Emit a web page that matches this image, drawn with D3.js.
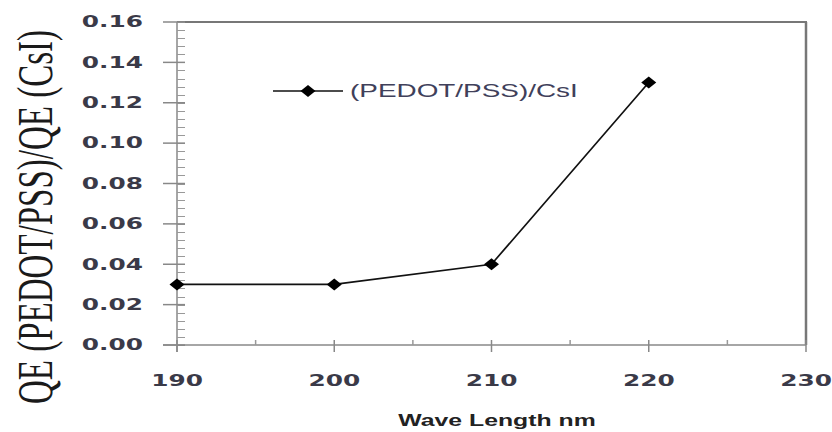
<!DOCTYPE html>
<html>
<head>
<meta charset="utf-8">
<script src="https://cdn.jsdelivr.net/npm/d3@7"></script>
<style>
  body { margin: 0; background: #fff; }
  svg { display: block; }
</style>
</head>
<body>
<div id="chart"></div>
<script>
// data
var wavelengths = [190, 200, 210, 220];
var qeRatio = [0.03, 0.03, 0.04, 0.13];
var xTicks = [190, 200, 210, 220, 230];
var yTicks = [0, 0.02, 0.04, 0.06, 0.08, 0.10, 0.12, 0.14, 0.16];
var seriesName = "(PEDOT/PSS)/CsI";
var xTitle = "Wave Length nm";
var yTitle = "QE (PEDOT/PSS)/QE (CsI)";

var W = 832, H = 432;
var SX = 1.55; // the original picture is stretched sideways
var pL = 177, pR = 806, pT = 22, pB = 345;

var svg = d3.select("#chart").append("svg")
  .attr("width", W).attr("height", H);

var x = d3.scaleLinear().domain([190, 230]).range([pL, pR]);
var y = d3.scaleLinear().domain([0, 0.16]).range([pB, pT]);

// stretched text helper
function stext(px, py, str, anchor, style) {
  return svg.append("text")
    .attr("transform", "translate(" + px + "," + py + ") scale(" + SX + ",1)")
    .attr("text-anchor", anchor)
    .attr("dominant-baseline", "central")
    .attr("style", style)
    .text(str);
}

// frame (top and right)
svg.append("line")
  .attr("x1", pL).attr("x2", pR + 1).attr("y1", pT).attr("y2", pT)
  .attr("stroke", "#777").attr("stroke-width", 2);
svg.append("line")
  .attr("x1", pR).attr("x2", pR).attr("y1", pT).attr("y2", pB)
  .attr("stroke", "#777").attr("stroke-width", 2.5);

// y axis
svg.append("line")
  .attr("x1", pL).attr("x2", pL).attr("y1", pT).attr("y2", pB + 7)
  .attr("stroke", "#888").attr("stroke-width", 1.5);
var yMinor = d3.range(0, 0.1601, 0.004);
svg.selectAll(".yminor").data(yMinor).enter().append("line")
  .attr("x1", pL).attr("x2", pL + 8)
  .attr("y1", function(d) { return Math.round(y(d)) + 0.5; })
  .attr("y2", function(d) { return Math.round(y(d)) + 0.5; })
  .attr("stroke", "#999").attr("stroke-width", 1);
svg.selectAll(".ymajor").data(yTicks).enter().append("line")
  .attr("x1", pL - 14).attr("x2", pL + 8)
  .attr("y1", function(d) { return y(d); })
  .attr("y2", function(d) { return y(d); })
  .attr("stroke", "#888").attr("stroke-width", 1.5);
yTicks.forEach(function(d) {
  stext(143, y(d), d3.format(".2f")(d), "end",
    "font-family:'DejaVu Sans';font-weight:bold;font-size:16px;fill:#3a3a48");
});

// x axis
svg.append("line")
  .attr("x1", pL - 14).attr("x2", pR).attr("y1", pB).attr("y2", pB)
  .attr("stroke", "#888").attr("stroke-width", 1.5);
var xMinor = [195, 205, 215, 225];
svg.selectAll(".xminor").data(xMinor).enter().append("line")
  .attr("x1", function(d) { return x(d); })
  .attr("x2", function(d) { return x(d); })
  .attr("y1", pB - 5).attr("y2", pB)
  .attr("stroke", "#999").attr("stroke-width", 1.5);
svg.selectAll(".xmajor").data(xTicks).enter().append("line")
  .attr("x1", function(d) { return x(d); })
  .attr("x2", function(d) { return x(d); })
  .attr("y1", pB - 5).attr("y2", pB + 7)
  .attr("stroke", "#888").attr("stroke-width", 1.5);
xTicks.forEach(function(d) {
  stext(x(d), 381, String(d), "middle",
    "font-family:'DejaVu Sans';font-weight:bold;font-size:16px;fill:#3a3a48");
});

// axis titles
stext(497, 420, xTitle, "middle",
  "font-family:'Liberation Sans';font-weight:bold;font-size:16px;fill:#222");
svg.append("text")
  .attr("transform", "translate(35,217) scale(" + SX + ",1) rotate(-90)")
  .attr("text-anchor", "middle")
  .attr("dominant-baseline", "central")
  .attr("style", "font-family:'Liberation Serif';font-size:33px;fill:#1a1a1a")
  .text(yTitle);

// series
var pts = wavelengths.map(function(w, i) { return [w, qeRatio[i]]; });
var line = d3.line()
  .x(function(d) { return x(d[0]); })
  .y(function(d) { return y(d[1]); });
svg.append("path").datum(pts)
  .attr("d", line)
  .attr("fill", "none").attr("stroke", "#111").attr("stroke-width", 1.7);

function diamond(cx, cy) {
  var w = 7.5, h = 6;
  return "M" + cx + "," + (cy - h) + "L" + (cx + w) + "," + cy +
    "L" + cx + "," + (cy + h) + "L" + (cx - w) + "," + cy + "Z";
}
svg.selectAll(".pt").data(pts).enter().append("path")
  .attr("d", function(d) { return diamond(x(d[0]), y(d[1])); })
  .attr("fill", "#000");

// legend
var ly = 91;
svg.append("line")
  .attr("x1", 273).attr("x2", 343).attr("y1", ly).attr("y2", ly)
  .attr("stroke", "#111").attr("stroke-width", 1.7);
svg.append("path").attr("d", diamond(308, ly)).attr("fill", "#000");
stext(350, ly, seriesName, "start",
  "font-family:'Liberation Sans';font-size:18px;fill:#40405a");
</script>
</body>
</html>
